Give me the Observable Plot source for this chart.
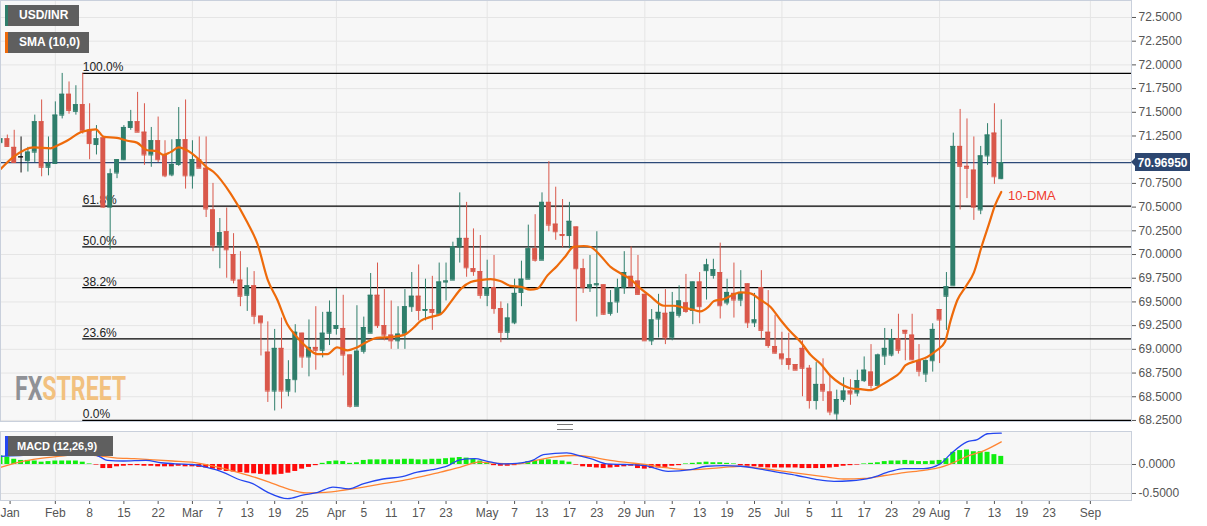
<!DOCTYPE html>
<html><head><meta charset="utf-8">
<script src="https://cdn.jsdelivr.net/npm/d3@7"></script>
<script src="https://cdn.jsdelivr.net/npm/@observablehq/plot@0.6"></script>
<style>
body{margin:0;background:#fff;font-family:"Liberation Sans",Arial,sans-serif;}
#wrap{position:relative;width:1207px;height:526px;overflow:hidden;}
#wrap svg{display:block;}
.lbox{position:absolute;background:#5f5f5f;color:#fff;font-weight:bold;font-size:12px;line-height:21px;height:21px;box-sizing:border-box;padding-left:11px;border-left:3px solid;}
.handle{position:absolute;left:557px;top:424px;width:16px;height:4px;border-top:1px solid #777;border-bottom:1px solid #777;}
</style></head>
<body><div id="wrap"></div>
<script>
// ---- data (trading-day index from Jan 22, 2019) ----
const open  = [71.18,71.22,71.13,71.03,70.99,71.08,71.40,70.92,70.96,71.47,71.69,71.51,71.58,71.30,71.16,71.23,70.50,70.86,71.00,71.34,71.40,71.29,71.05,71.20,71.05,70.84,70.95,71.21,70.83,71.00,70.91,70.47,70.09,70.24,70.00,69.73,69.57,69.67,69.35,68.97,68.56,69.01,68.56,68.68,69.17,68.92,69.02,68.99,69.17,69.22,69.22,68.94,68.40,68.98,69.17,69.57,69.25,69.15,69.09,69.16,69.45,69.56,69.41,69.42,69.37,69.71,69.73,70.08,70.17,69.85,69.82,69.57,69.65,69.43,69.18,69.28,69.60,69.74,70.06,69.94,70.55,70.32,70.21,70.20,70.29,69.85,69.65,69.68,69.68,69.38,69.50,69.65,69.77,69.72,69.58,69.09,69.32,69.38,69.12,69.36,69.49,69.41,69.71,69.83,69.78,69.81,69.49,69.59,69.52,69.69,69.28,69.65,69.18,69.03,68.95,68.90,68.84,69.01,68.80,68.46,68.63,68.55,68.32,68.47,68.56,68.54,68.67,68.76,68.62,68.93,68.94,69.11,69.20,69.15,68.88,68.74,68.88,69.42,69.56,69.67,71.14,70.93,70.89,70.47,71.04,71.28,70.80];
const high  = [71.50,71.26,71.31,71.24,71.13,71.47,71.63,71.24,71.61,71.91,71.82,71.78,71.91,71.59,71.36,71.24,70.90,71.00,71.36,71.52,71.71,71.59,71.34,71.45,71.20,71.21,71.55,71.63,71.20,71.24,71.24,70.75,70.38,70.49,70.22,70.03,69.86,69.82,69.35,69.29,69.21,69.33,68.88,69.26,69.17,69.31,69.45,69.39,69.51,69.64,69.57,68.94,69.46,69.34,69.80,69.91,69.63,69.51,69.45,69.63,69.81,69.89,69.74,69.77,69.91,69.91,70.13,70.65,70.55,70.27,70.20,69.94,69.99,69.50,69.48,69.74,69.93,70.31,70.42,70.65,70.98,70.71,70.58,70.55,70.29,69.95,69.99,70.24,69.68,69.62,69.74,70.03,70.08,69.99,69.58,69.42,69.58,69.63,69.60,69.67,69.79,69.71,69.81,69.95,69.95,70.12,69.74,69.91,69.83,69.69,69.59,69.83,69.62,69.36,69.18,69.17,68.84,69.09,68.83,68.86,68.90,68.72,68.57,68.70,68.68,68.78,68.92,69.05,68.95,69.22,69.21,69.37,69.20,69.37,69.05,68.89,69.27,69.42,69.81,71.28,71.53,71.43,71.24,71.14,71.38,71.59,71.42];
const low   = [71.13,71.13,70.96,70.86,70.87,70.97,70.82,70.83,70.96,71.43,71.48,71.47,71.27,71.00,71.05,70.49,70.05,70.80,70.99,71.31,71.29,70.94,70.92,70.97,70.81,70.82,70.93,70.69,70.69,70.91,70.39,70.03,69.85,69.75,69.69,69.45,69.40,69.26,68.93,68.44,68.35,68.37,68.50,68.54,68.80,68.71,68.78,68.91,69.04,69.15,68.72,68.38,68.40,68.95,69.17,69.22,69.09,69.00,69.00,69.00,69.39,69.30,69.30,69.20,69.36,69.51,69.73,69.91,69.76,69.77,69.53,69.45,69.37,69.07,69.10,69.26,69.45,69.74,69.92,69.94,70.24,70.15,70.07,70.06,69.29,69.59,69.60,69.34,69.36,69.35,69.38,69.58,69.66,69.57,69.09,69.04,69.12,69.05,69.09,69.33,69.38,69.26,69.27,69.52,69.74,69.32,69.46,69.33,69.45,69.22,69.23,69.11,69.01,68.95,68.83,68.78,68.78,68.50,68.37,68.36,68.45,68.30,68.25,68.44,68.41,68.50,68.65,68.58,68.62,68.83,68.92,68.95,68.88,68.88,68.71,68.65,68.76,68.85,69.20,69.67,70.47,70.59,70.36,70.42,70.94,70.74,70.79];
const close = [71.22,71.14,70.97,71.03,71.08,71.40,70.92,70.96,71.47,71.69,71.52,71.58,71.30,71.17,71.22,70.50,70.85,71.00,71.34,71.40,71.29,71.05,71.20,71.00,70.83,70.95,71.21,70.83,71.00,70.91,70.48,70.09,70.23,70.05,69.73,69.56,69.67,69.35,69.28,68.56,69.01,68.56,68.68,69.18,68.92,69.02,68.99,69.17,69.39,69.25,68.94,68.40,68.98,69.23,69.57,69.25,69.15,69.09,69.16,69.45,69.56,69.41,69.42,69.39,69.71,69.72,70.08,70.17,69.86,69.82,69.57,69.65,69.43,69.18,69.33,69.59,69.74,70.06,69.94,70.55,70.31,70.24,70.20,70.35,69.85,69.65,69.68,69.69,69.37,69.49,69.65,69.81,69.66,69.58,69.09,69.31,69.39,69.12,69.39,69.51,69.40,69.71,69.45,69.89,69.84,69.46,69.60,69.52,69.59,69.28,69.31,69.20,69.04,68.96,68.90,68.84,68.78,68.80,68.46,68.63,68.56,68.34,68.47,68.56,68.53,68.67,68.78,68.62,68.94,69.01,69.11,68.99,69.17,68.89,68.77,68.88,69.21,69.31,69.66,71.14,70.93,70.91,70.50,71.04,71.26,70.82,70.9695];

// 10-day SMA
const smaIdx = [0,1.9,4.9,7.3,8.3,9.7,11.7,13.9,15.1,17,18.5,19.9,21.4,22.8,23.8,24.8,26,27.2,28.7,30.1,31.1,33.6,36,37.5,39,40.4,41.8,43,44.7,46.2,47.7,49.1,50.6,52,53.5,54.9,56.9,58.8,60.3,61.3,62.7,64.2,65.7,67.2,68.6,70,71.5,72.9,74.4,75.9,77.3,78.3,79.8,81.2,82.4,83.6,85.1,86.1,87.5,89,90.5,91.9,93.4,94.8,96.8,98.2,99.7,100.9,102.1,103.3,104.1,105.5,107,108,109.4,110.9,112.3,113.8,115.2,116.7,118.2,119.6,121.1,122.5,124,125.5,127,128.4,129.8,131.3,132,133.7,135.2,136.6,137.8,138.6,139.6,140.8,142,143.2,144.2,145.1,146];
const smaVal = [70.90,71.03,71.13,71.12,71.15,71.20,71.29,71.32,71.24,71.23,71.20,71.18,71.10,71.09,71.05,71.08,71.13,71.10,71.02,70.92,70.87,70.64,70.34,70.11,69.73,69.52,69.27,69.15,69.02,68.95,68.95,69.02,68.99,69.02,69.08,69.12,69.13,69.15,69.23,69.30,69.34,69.37,69.50,69.64,69.71,69.73,69.74,69.72,69.67,69.66,69.63,69.64,69.78,69.88,69.98,70.08,70.09,70.08,69.99,69.87,69.80,69.74,69.64,69.56,69.46,69.46,69.44,69.42,69.40,69.45,69.51,69.53,69.58,69.60,69.59,69.52,69.45,69.31,69.19,69.08,68.94,68.85,68.72,68.64,68.59,68.58,68.57,68.62,68.68,68.76,68.83,68.88,68.92,68.99,69.08,69.30,69.52,69.66,69.81,70.10,70.32,70.52,70.66];

// MACD (12,26,9)
const macdIdx = [0,2.8,5.6,8.4,11.2,12.8,14.5,15.6,17.9,21.2,23.4,25.7,27.9,30.1,32.4,34.6,36.8,39,41.9,44.1,46.3,48.5,50.8,53,55.8,58.6,60.8,63,65.3,67,69.2,70.9,73.1,75.3,77.6,79.2,82.6,84.8,86.1,88.5,91,94,97.4,100.7,103,105.5,108,110.4,113.3,116.2,119.1,121.6,124,127,129.8,131.8,134.7,137.1,138.6,141,142.5,144,146];
const macdVal = [0.14,0.155,0.17,0.18,0.21,0.20,0.13,0.07,0.06,0.07,0.03,0.01,0,-0.05,-0.13,-0.25,-0.33,-0.48,-0.59,-0.53,-0.48,-0.39,-0.42,-0.33,-0.25,-0.21,-0.13,-0.09,-0.02,0.08,0.10,0.06,0.01,0.02,0.07,0.17,0.20,0.14,0.10,0.01,0,-0.02,-0.12,-0.09,-0.03,-0.02,-0.03,-0.07,-0.13,-0.19,-0.26,-0.29,-0.28,-0.23,-0.12,-0.07,-0.07,0.01,0.18,0.39,0.43,0.53,0.54];
const sigIdx = [0,2.8,5.6,8.4,11.2,14,16.7,19.5,22.3,25.1,27.9,30.7,33.5,36.3,39.1,41.9,44.6,47.4,50.2,53,55.8,58.6,61.4,64.2,67,69.8,72.5,75.3,78.1,80.9,83.7,86.1,88.5,91,94,97.4,100.7,105.5,108,110.4,113.3,116.2,120.1,123,126,129,131.8,134.7,137.1,138.6,141,143.5,146];
const sigVal = [-0.05,0.04,0.10,0.14,0.17,0.155,0.115,0.10,0.08,0.06,0.04,-0.02,-0.10,-0.19,-0.30,-0.42,-0.49,-0.48,-0.44,-0.39,-0.33,-0.28,-0.21,-0.13,-0.05,0.04,0.02,0.01,0.07,0.13,0.155,0.13,0.08,0.04,0,-0.06,-0.09,-0.05,-0.03,-0.06,-0.10,-0.15,-0.21,-0.25,-0.24,-0.19,-0.14,-0.10,-0.05,0.01,0.14,0.24,0.39];
const histVal = [0.15,0.13,0.09,0.07,0.07,0.06,0.04,0.05,0.06,0.06,
 0.06,0.06,0.04,0.01,-0.01,-0.07,-0.07,-0.04,-0.03,-0.02,
 -0.02,-0.03,-0.03,-0.04,-0.04,-0.04,-0.03,-0.04,-0.04,-0.05,
 -0.06,-0.08,-0.10,-0.12,-0.13,-0.14,-0.15,-0.16,-0.17,-0.18,
 -0.18,-0.17,-0.15,-0.12,-0.08,-0.05,-0.02,0.02,0.05,0.06,
 0.05,0.02,0.03,0.07,0.08,0.08,0.08,0.08,0.08,0.09,
 0.09,0.08,0.08,0.09,0.09,0.10,0.11,0.12,0.11,0.09,
 0.06,0.03,-0.02,-0.03,-0.03,-0.02,0.02,0.05,0.07,0.08,
 0.08,0.07,0.06,0.04,-0.01,-0.04,-0.05,-0.06,-0.07,-0.06,
 -0.05,-0.04,-0.03,-0.07,-0.08,-0.07,-0.06,-0.05,-0.03,-0.02,
 0.01,0.02,0.03,0.04,0.03,0.03,0.02,0.01,-0.02,-0.03,
 -0.04,-0.05,-0.06,-0.06,-0.06,-0.06,-0.06,-0.07,-0.07,-0.07,
 -0.07,-0.06,-0.05,-0.03,-0.02,-0.01,0.01,0.02,0.03,0.05,
 0.06,0.06,0.07,0.06,0.05,0.05,0.06,0.07,0.10,0.21,
 0.24,0.25,0.22,0.22,0.21,0.17,0.14];

// Fibonacci retracement levels
const fibLabels = ["100.0%","61.8%","50.0%","38.2%","23.6%","0.0%"];
const fibLevels = [71.91,70.51,70.08,69.65,69.11,68.25];
const fibStart = 12;

// axis ticks (71.0000 is hidden behind the last-price tag in the reference)
const priceTicks = [68.25,68.5,68.75,69,69.25,69.5,69.75,70,70.25,70.5,70.75,71,71.25,71.5,71.75,72,72.25,72.5];
const priceLabelTicks = [68.25,68.5,68.75,69,69.25,69.5,69.75,70,70.25,70.5,70.75,71.25,71.5,71.75,72,72.25,72.5];
const tickIdx    = [1.4,8,13,18,23,28,32,36,40,44,49,53,57,61,65,71,75,79,83,87,91,94,98,102,106,110,114,118,122,126,130,134,137,141,145,149,153,159];
const tickLabels = ["Jan","Feb","8","15","22","Mar","7","13","19","25","Apr","5","11","17","23","May","7","13","17","23","29","Jun","7","13","19","25","Jul","5","11","17","23","29","Aug","7","13","19","23","Sep"];
const monthIdx   = [8,28,49,71,94,114,137,159];
const lastPrice  = 70.9695;

// ---- build ----
const GREEN = "#2f7e6b", RED = "#d9584b";
const candles = open.map((o,k)=>({i:k,o,h:high[k],l:low[k],c:close[k]}));
const col = d => d.c > d.o ? GREEN : d.c < d.o ? RED : "#111";
const smaPts = smaIdx.map((x,k)=>({x,y:smaVal[k]}));
const macdPts = macdIdx.map((x,k)=>({x,y:macdVal[k]}));
const sigPts = sigIdx.map((x,k)=>({x,y:sigVal[k]}));
const histPts = histVal.map((v,k)=>({i:k,v}));
const fibPts = fibLevels.map((v,k)=>({v,label:fibLabels[k]}));
const FONT = "Liberation Sans, Arial, sans-serif";
const HW = 0.36;

const mainChart = Plot.plot({
  width:1207, height:426, marginLeft:0, marginRight:76, marginTop:0, marginBottom:5,
  style:{background:"transparent", fontFamily:FONT, fontSize:"12px", color:"#555"},
  color:{type:"identity"},
  x:{domain:[0,165], axis:null},
  y:{domain:[68.239,72.679], axis:"right", ticks:priceLabelTicks, tickFormat:d=>d.toFixed(4), tickSize:4, tickPadding:3, label:null},
  marks:[
    Plot.frame({fill:"#f7f7f7"}),
    Plot.ruleY(priceTicks,{stroke:"#e5e5e5"}),
    Plot.ruleX(monthIdx,{stroke:"#e5e5e5"}),
    Plot.ruleY([lastPrice],{stroke:"#2c4a78", strokeWidth:1.2}),
    Plot.ruleY(fibPts,{y:"v", x1:fibStart, x2:165, stroke:"#000", strokeWidth:1.3}),
    Plot.text(fibPts,{y:"v", x:fibStart, text:"label", textAnchor:"start", dy:-6, fill:"#222", fontSize:12}),
    Plot.ruleX(candles,{x:"i", y1:"l", y2:"h", stroke:col, strokeWidth:1}),
    Plot.rect(candles,{x1:d=>d.i-HW, x2:d=>d.i+HW, y1:"o", y2:"c", fill:col}),
    Plot.ruleY(candles,{y:"o", x1:d=>d.i-HW, x2:d=>d.i+HW, stroke:col}),
    Plot.ruleY(candles,{y:"c", x1:d=>d.i-HW, x2:d=>d.i+HW, stroke:col}),
    Plot.line(smaPts,{x:"x", y:"y", stroke:"#ee6a0a", strokeWidth:2.2, curve:"monotone-x"}),
    Plot.text(["10-DMA"],{x:147, y:70.62, text:d=>d, textAnchor:"start", fill:"#f03a2e", fontSize:13}),
    Plot.frame({stroke:"#c9d0dc"})
  ]
});

const macdChart = Plot.plot({
  width:1207, height:100, marginLeft:0, marginRight:76, marginTop:5, marginBottom:26,
  style:{background:"transparent", fontFamily:FONT, fontSize:"12px", color:"#555"},
  color:{type:"identity"},
  x:{domain:[0,165], ticks:tickIdx, tickFormat:d=>tickLabels[tickIdx.indexOf(d)], tickSize:4, tickPadding:4, label:null},
  y:{domain:[-0.621,0.569], axis:"right", ticks:[0,-0.5], tickFormat:d=>d.toFixed(4), tickSize:4, tickPadding:3, label:null},
  marks:[
    Plot.frame({fill:"#f7f7f7"}),
    Plot.ruleY([0,-0.5],{stroke:"#e2e2e2"}),
    Plot.ruleX(monthIdx,{stroke:"#e5e5e5"}),
    Plot.rect(histPts,{x1:d=>d.i-HW, x2:d=>d.i+HW, y1:0, y2:"v", fill:d=>d.v>=0?"#10ee10":"#ff0a0a"}),
    Plot.line(sigPts,{x:"x", y:"y", stroke:"#ff8533", strokeWidth:1.3, curve:"monotone-x"}),
    Plot.line(macdPts,{x:"x", y:"y", stroke:"#2446f0", strokeWidth:1.3, curve:"monotone-x"}),
    Plot.frame({stroke:"#c9d0dc"})
  ]
});

const wrap = document.getElementById("wrap");
wrap.appendChild(mainChart);
wrap.appendChild(macdChart);

// watermark (one text, two coloured parts, horizontally condensed) + current price tag
const ms = d3.select(mainChart);
const wm = ms.append("text").attr("transform","translate(15,400) scale(0.70,1)").attr("text-anchor","start")
  .attr("font-family","Roboto, DejaVu Sans, sans-serif").attr("font-weight","bold").attr("font-size",33);
wm.append("tspan").attr("fill","#8f9196").text("FX");
wm.append("tspan").attr("fill","#f2c17f").text("STREET");

const yc = mainChart.scale("y").apply(lastPrice);
const tag = ms.append("g");
tag.append("path").attr("d",`M1131,${yc} L1135,${yc-4} L1135,${yc-9} L1190,${yc-9} L1190,${yc+9} L1135,${yc+9} L1135,${yc+4} Z`).attr("fill","#2c4670");
tag.append("text").attr("x",1162.5).attr("y",yc+4.5).attr("text-anchor","middle")
  .attr("fill","#fff").attr("font-weight","bold").attr("font-size",12).attr("font-family",FONT).text(lastPrice.toFixed(5));

// legend boxes
function box(txt,left,topPx,w,stripe){
  const d=document.createElement("div");d.className="lbox";d.textContent=txt;
  d.style.left=left+"px";d.style.top=topPx+"px";d.style.width=w+"px";d.style.borderLeftColor=stripe;
  wrap.appendChild(d);return d;
}
box("USD/INR",5,5,74,"#2f7e6b");
box("SMA (10,0)",5,32,84,"#ee6a0a");
const mb = box("MACD (12,26,9)",5,436,108,"#2446f0");
mb.style.fontSize="11px";mb.style.height="20px";mb.style.lineHeight="20px";mb.style.paddingLeft="9px";
const hd=document.createElement("div");hd.className="handle";wrap.appendChild(hd);
</script>
</body></html>
